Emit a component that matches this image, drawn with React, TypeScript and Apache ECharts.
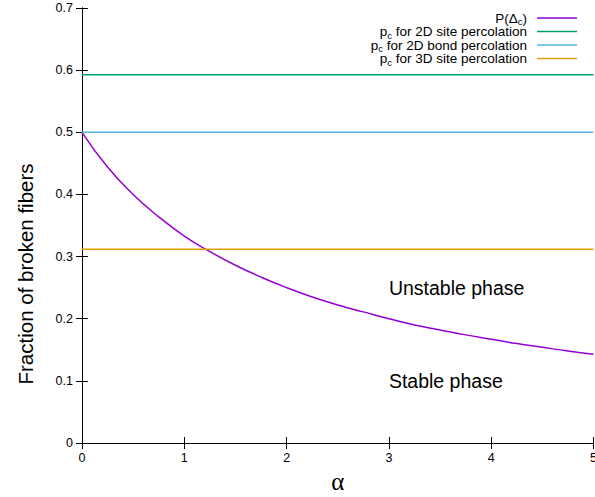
import React, { useEffect, useRef } from "react";
import * as echarts from "echarts";

const alphaValues = [0, 0.25, 0.5, 0.75, 1, 1.25, 1.5, 1.75, 2, 2.25, 2.5, 2.75, 3, 3.25, 3.5, 3.75, 4, 4.25, 4.5, 4.75, 5];
const pDeltaC = [0.5, 0.444, 0.4, 0.364, 0.333, 0.308, 0.286, 0.267, 0.25, 0.235, 0.222, 0.211, 0.2, 0.19, 0.182, 0.174, 0.167, 0.16, 0.154, 0.148, 0.143];
const pc2DSite = 0.5927;
const pc2DBond = 0.5;
const pc3DSite = 0.3116;
const seriesNames = ["P(Δc)", "pc for 2D site percolation", "pc for 2D bond percolation", "pc for 3D site percolation"];
const legendRich = [
  "{a|P(Δ}{s|c}{a|)}",
  "{a|p}{s|c}{a| for 2D site percolation}",
  "{a|p}{s|c}{a| for 2D bond percolation}",
  "{a|p}{s|c}{a| for 3D site percolation}",
];
const phaseLabels = [
  { text: "Unstable phase", x: 3, y: 0.25 },
  { text: "Stable phase", x: 3, y: 0.1 },
];
const yTitle = "Fraction of broken fibers";

const FONT = "Liberation Sans, Arial, sans-serif";

export default function App() {
  const ref = useRef<HTMLDivElement>(null);
  useEffect(() => {
    if (!ref.current) return;
    const chart = echarts.init(ref.current, null, { renderer: "svg" });
    const hline = (v: number) => [
      [0, v],
      [5, v],
    ];
    const axisCommon = {
      axisLine: { show: true, lineStyle: { color: "#000", width: 1 } },
      axisTick: { show: true, inside: true, length: 6, lineStyle: { color: "#000" } },
      splitLine: { show: false },
    };
    chart.setOption({
      animation: false,
      backgroundColor: "#fff",
      textStyle: { fontFamily: FONT },
      grid: { left: 82, right: 1.5, top: 8, bottom: 54, containLabel: false, outerBoundsMode: "none" },
      legend: {
        orient: "vertical",
        right: 18,
        top: 11,
        align: "right",
        itemWidth: 40,
        itemHeight: 1.5,
        itemGap: -2,
        icon: "rect",
        padding: 0,
        data: seriesNames,
        formatter: (name: string) => legendRich[seriesNames.indexOf(name)],
        textStyle: {
          fontFamily: FONT,
          padding: [0, 5, 0, 0],
          rich: {
            a: { fontSize: 13.5, color: "#000", fontFamily: FONT },
            s: { fontSize: 9.5, color: "#000", fontFamily: FONT, padding: [7, 0, 0, 0] },
          },
        },
      },
      xAxis: [
        {
          type: "value",
          min: 0,
          max: 5,
          interval: 1,
          name: "α",
          nameLocation: "middle",
          nameGap: 22,
          nameTextStyle: { fontSize: 25, color: "#000", fontFamily: "Liberation Serif, DejaVu Serif, serif" },
          axisLabel: { fontSize: 12.5, color: "#000", margin: 8, fontFamily: FONT },
          ...axisCommon,
        },
        {
          type: "value",
          position: "top",
          min: 0,
          max: 5,
          interval: 1,
          axisLabel: { show: false },
          ...axisCommon,
        },
      ],
      yAxis: [
        {
          type: "value",
          min: 0,
          max: 0.7,
          interval: 0.1,
          axisLabel: {
            fontSize: 12.5,
            color: "#000",
            margin: 9,
            fontFamily: FONT,
            formatter: (v: number) => (v === 0 ? "0" : v.toFixed(1)),
          },
          ...axisCommon,
        },
        {
          type: "value",
          position: "right",
          min: 0,
          max: 0.7,
          interval: 0.1,
          axisLabel: { show: false },
          ...axisCommon,
        },
      ],
      series: [
        {
          name: seriesNames[0],
          type: "line",
          smooth: true,
          showSymbol: false,
          symbol: "none",
          data: alphaValues.map((a, i) => [a, pDeltaC[i]]),
          lineStyle: { color: "#9400d3", width: 1.5 },
          itemStyle: { color: "#9400d3" },
        },
        {
          name: seriesNames[1],
          type: "line",
          symbol: "none",
          data: hline(pc2DSite),
          lineStyle: { color: "#009e73", width: 1.5 },
          itemStyle: { color: "#009e73" },
        },
        {
          name: seriesNames[2],
          type: "line",
          symbol: "none",
          data: hline(pc2DBond),
          lineStyle: { color: "#56b4e9", width: 1.5 },
          itemStyle: { color: "#56b4e9" },
        },
        {
          name: seriesNames[3],
          type: "line",
          symbol: "none",
          data: hline(pc3DSite),
          lineStyle: { color: "#e69f00", width: 1.5 },
          itemStyle: { color: "#e69f00" },
        },
      ],
    });
    const graphics: any[] = phaseLabels.map((p) => {
      const [px, py] = chart.convertToPixel({ xAxisIndex: 0, yAxisIndex: 0 }, [p.x, p.y]) as number[];
      return {
        type: "text",
        x: px,
        y: py,
        style: {
          text: p.text,
          fontSize: 19.5,
          fontFamily: FONT,
          fill: "#000",
          textAlign: "left",
          textVerticalAlign: "middle",
        },
      };
    });
    graphics.push({
      type: "text",
      x: 25,
      y: 274,
      rotation: Math.PI / 2,
      style: {
        text: yTitle,
        fontSize: 20.5,
        fontFamily: FONT,
        fill: "#000",
        textAlign: "center",
        textVerticalAlign: "middle",
      },
    });
    chart.setOption({ graphic: graphics });
    return () => chart.dispose();
  }, []);
  return <div ref={ref} style={{ width: 595, height: 497, position: "absolute", left: 0, top: 0 }} />;
}
